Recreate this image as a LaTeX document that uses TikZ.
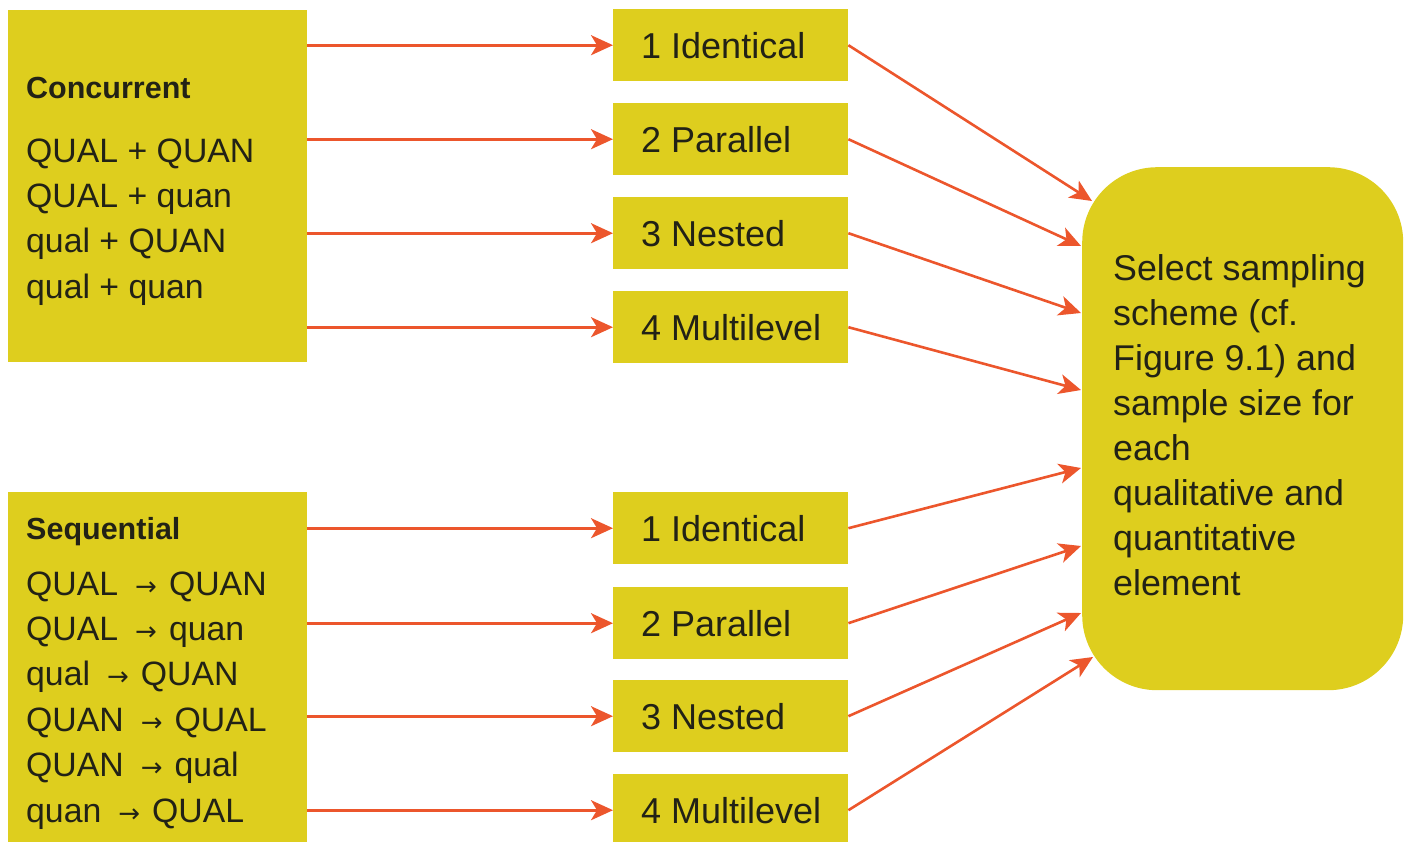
\documentclass[tikz,border=0pt]{standalone}
\usepackage{fontspec}
\setmainfont{Liberation Sans}
\newfontfamily\arrowfont{DejaVu Sans}
\usetikzlibrary{arrows.meta}

\definecolor{boxyellow}{RGB}{222,206,30}
\definecolor{linkred}{RGB}{236,86,44}
\definecolor{ink}{RGB}{34,34,22}

% small arrow used between the sequential design labels
\newcommand\seqto{\hspace{17pt}{\arrowfont\fontsize{26}{26}\selectfont →}\hspace{12pt}}
% left-set label of fixed width inside a relationship box
\newcommand\boxlabel[1]{\makebox[179pt][l]{#1}}

\begin{document}
\begin{tikzpicture}[x=1pt,y=-1pt,
  panel/.style={fill=boxyellow, draw=none, inner sep=0pt, anchor=north west},
  typebox/.style={panel, minimum height=72pt, inner xsep=28pt,
    text=ink, font=\fontsize{36}{42}\selectfont},
  headtext/.style={anchor=base west, inner sep=0pt, text=ink,
    font=\fontsize{30.5}{36}\selectfont\bfseries},
  linetext/.style={anchor=base west, inner sep=0pt, text=ink,
    font=\fontsize{33.8}{40}\selectfont},
  selecttext/.style={anchor=base west, inner sep=0pt, text=ink,
    font=\fontsize{35.8}{42}\selectfont},
  link/.style={draw=linkred, line width=2.6pt,
    -{Stealth[length=22pt, width=20pt, inset=6pt]}}
]
\useasboundingbox (0,0) rectangle (1408,841);
\clip (0,0) rectangle (1408,841);

% design-type panels on the left
\node[panel, minimum width=299pt, minimum height=352pt] (conc) at (8,10) {};
\node[panel, minimum width=299pt, minimum height=360pt] (seq) at (8,492) {};

\node[headtext] (conchead) at (26,98) {Concurrent};
\foreach [count=\i] \t in {QUAL + QUAN, QUAL + quan, qual + QUAN, qual + quan}
  \node[linetext] (cl\i) at (26,{162+45.4*(\i-1)}) {\t};

\node[headtext] (seqhead) at (26,539) {Sequential};
\foreach [count=\i] \t in {QUAL\seqto QUAN, QUAL\seqto quan, qual\seqto QUAN,
                           QUAN\seqto QUAL, QUAN\seqto qual, quan\seqto QUAL}
  \node[linetext] (sl\i) at (26,{595+45.4*(\i-1)}) {\t};

% sampling relationship boxes
\node[typebox] (a1) at (613,9)   {\boxlabel{1 Identical}};
\node[typebox] (a2) at (613,103) {\boxlabel{2 Parallel}};
\node[typebox] (a3) at (613,197) {\boxlabel{3 Nested}};
\node[typebox] (a4) at (613,291) {\boxlabel{4 Multilevel}};
\node[typebox] (b1) at (613,492) {\boxlabel{1 Identical}};
\node[typebox] (b2) at (613,587) {\boxlabel{2 Parallel}};
\node[typebox] (b3) at (613,680) {\boxlabel{3 Nested}};
\node[typebox] (b4) at (613,774) {\boxlabel{4 Multilevel}};

% final decision box
\node[panel, rounded corners=75pt, minimum width=321pt, minimum height=523pt]
  (sel) at (1082,167) {};
\foreach [count=\i] \t in {Select sampling, scheme (cf., Figure 9.1) and,
    sample size for, each, qualitative and, quantitative, element}
  \node[selecttext] (s\i) at (1113,{280+45.1*(\i-1)}) {\t};

% arrow tips on the decision box
\coordinate (ta1) at (1092,201);
\coordinate (ta2) at (1081,246);
\coordinate (ta3) at (1081,313);
\coordinate (ta4) at (1081,390);
\coordinate (tb1) at (1081,468);
\coordinate (tb2) at (1081,546);
\coordinate (tb3) at (1081,613);
\coordinate (tb4) at (1093,657);

% connectors
\foreach \n in {a1,a2,a3,a4}
  \draw[link] (conc.east |- \n.west) -- (\n.west);
\foreach \n in {b1,b2,b3,b4}
  \draw[link] (seq.east |- \n.west) -- (\n.west);
\foreach \n in {a1,a2,a3,a4,b1,b2,b3,b4}
  \draw[link] (\n.east) -- (t\n);
\end{tikzpicture}
\end{document}
